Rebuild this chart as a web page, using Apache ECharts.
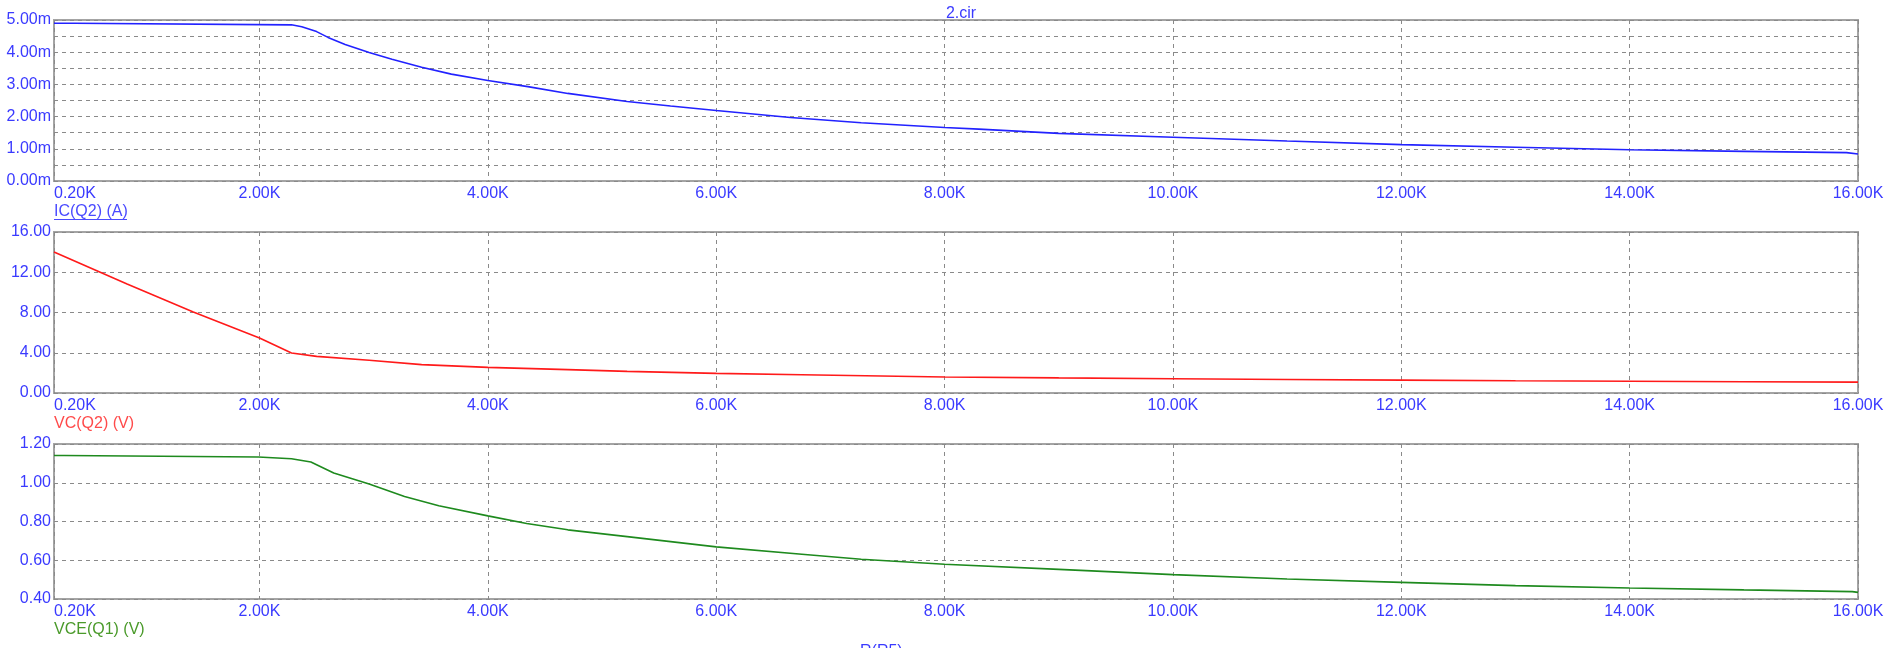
<!DOCTYPE html>
<html>
<head>
<meta charset="utf-8">
<script src="https://cdn.jsdelivr.net/npm/echarts@6/dist/echarts.min.js"></script>
<style>
html,body{margin:0;padding:0;background:#fff;}
#c{width:1896px;height:648px;}
</style>
</head>
<body>
<div id="c"></div>
<script>
// ---- data (R(R5) in ohms) ----
const xTickMin = 200;
const xTickMax = 16000;

const rIC = [200, 380, 390, 2280, 2370, 2500, 2600, 2750, 2960, 3160, 3420, 3680, 4000, 4350, 4700, 5220, 5600, 6000, 6650, 7270, 8000, 8300, 9000, 10000, 11000, 12000, 13000, 14000, 15000, 15900, 16000];
const icQ2 = [4.90e-3, 4.90e-3, 4.86e-3, 4.85e-3, 4.79e-3, 4.64e-3, 4.46e-3, 4.24e-3, 3.99e-3, 3.78e-3, 3.53e-3, 3.32e-3, 3.12e-3, 2.93e-3, 2.72e-3, 2.47e-3, 2.33e-3, 2.19e-3, 1.97e-3, 1.81e-3, 1.66e-3, 1.61e-3, 1.48e-3, 1.36e-3, 1.24e-3, 1.13e-3, 1.05e-3, 0.97e-3, 0.92e-3, 0.88e-3, 0.84e-3];

const rVC = [200, 585, 840, 1420, 2000, 2280, 2500, 2960, 3420, 4000, 4700, 5220, 6000, 6750, 8000, 9000, 10000, 11000, 12000, 13000, 14000, 15000, 16000];
const vcQ2 = [14.01, 12.09, 10.83, 8.05, 5.47, 3.97, 3.64, 3.25, 2.82, 2.55, 2.32, 2.15, 1.95, 1.82, 1.59, 1.50, 1.42, 1.34, 1.28, 1.22, 1.17, 1.12, 1.08];

const rVCE = [200, 290, 300, 1990, 2000, 2280, 2450, 2650, 2960, 3270, 3570, 4000, 4340, 4700, 5220, 6000, 6750, 7270, 8000, 9000, 10000, 11000, 12000, 13000, 14000, 15000, 15950, 16000];
const vceQ1 = [1.141, 1.141, 1.133, 1.133, 1.126, 1.124, 1.107, 1.050, 0.993, 0.929, 0.881, 0.829, 0.790, 0.757, 0.722, 0.669, 0.631, 0.605, 0.579, 0.553, 0.526, 0.503, 0.486, 0.469, 0.457, 0.447, 0.438, 0.434];

const yTicks1 = {min: 0, max: 5e-3, step: 0.5e-3};
const yTicks2 = {min: 0, max: 16, step: 4};
const yTicks3 = {min: 0.4, max: 1.2, step: 0.2};

const titleText = '2.cir';
const seriesNames = ['IC(Q2) (A)', 'VC(Q2) (V)', 'VCE(Q1) (V)'];
const xAxisName = 'R(R5)';

// ---- styles ----
const FONT = '"Liberation Sans", Arial, sans-serif';
const LBL = '#3a3aff';
const GRIDC = '#8a8a8a';
const lineColors = ['#2222ff', '#ff1a1a', '#1e8a1e'];
const nameColors = ['#4a4aff', '#ff4a4a', '#4a9a2a'];

const grids = [
  {left: 54, right: 38, top: 20, height: 161},
  {left: 54, right: 38, top: 232, height: 161},
  {left: 54, right: 38, top: 444, height: 155}
];

function xAxis(gi) {
  return {
    type: 'value', gridIndex: gi, min: xTickMin, max: xTickMax, splitNumber: 8,
    axisLine: {show: false}, axisTick: {show: false},
    axisLabel: {color: LBL, fontSize: 16, fontFamily: FONT, margin: 5, alignMinLabel: 'left',
      formatter: v => (v / 1000).toFixed(2) + 'K'},
    splitLine: {show: true, lineStyle: {color: GRIDC, type: [4, 4], width: 1}}
  };
}
function yAxis(gi, t, fmt) {
  return {
    type: 'value', gridIndex: gi, min: t.min, max: t.max, interval: t.step,
    axisLine: {show: false}, axisTick: {show: false},
    axisLabel: {color: LBL, fontSize: 16, fontFamily: FONT, margin: 3, formatter: fmt,
      showMinLabel: true, showMaxLabel: true},
    splitLine: {show: true, lineStyle: {color: GRIDC, type: [4, 4], width: 1}}
  };
}
const fmt1 = v => { const m = Math.round(v * 2000); return m % 2 ? '' : (m / 2).toFixed(2) + 'm'; };
const fmt2 = v => v.toFixed(2);

const pairs = (xs, ys) => xs.map((x, i) => [x, ys[i]]);

const chart = echarts.init(document.getElementById('c'), null, {renderer: 'canvas'});
chart.setOption({
  animation: false,
  backgroundColor: '#ffffff',
  textStyle: {fontFamily: FONT},
  title: {text: titleText, left: 956, top: 1, textAlign: 'center',
    textStyle: {color: LBL, fontSize: 16, fontWeight: 'normal', fontFamily: FONT}},
  grid: grids.map(g => Object.assign({show: true, borderColor: '#a4a4a4', borderWidth: 2, backgroundColor: '#fff'}, g)),
  xAxis: [xAxis(0), xAxis(1), xAxis(2)],
  yAxis: [yAxis(0, yTicks1, fmt1), yAxis(1, yTicks2, fmt2), yAxis(2, yTicks3, fmt2)],
  series: [
    {type: 'line', name: seriesNames[0], xAxisIndex: 0, yAxisIndex: 0, showSymbol: false,
      lineStyle: {color: lineColors[0], width: 1.6}, data: pairs(rIC, icQ2)},
    {type: 'line', name: seriesNames[1], xAxisIndex: 1, yAxisIndex: 1, showSymbol: false,
      lineStyle: {color: lineColors[1], width: 1.6}, data: pairs(rVC, vcQ2)},
    {type: 'line', name: seriesNames[2], xAxisIndex: 2, yAxisIndex: 2, showSymbol: false,
      lineStyle: {color: lineColors[2], width: 1.6}, data: pairs(rVCE, vceQ1)}
  ],
  graphic: [
    {type: 'text', left: 54, top: 204, style: {text: seriesNames[0], fill: nameColors[0], font: '16px ' + FONT}},
    {type: 'line', shape: {x1: 54, y1: 219.5, x2: 127, y2: 219.5}, style: {stroke: nameColors[0], lineWidth: 1}},
    {type: 'text', left: 54, top: 416, style: {text: seriesNames[1], fill: nameColors[1], font: '16px ' + FONT}},
    {type: 'text', left: 54, top: 622, style: {text: seriesNames[2], fill: nameColors[2], font: '16px ' + FONT}},
    {type: 'text', left: 860, top: 644, style: {text: xAxisName, fill: LBL, font: '16px ' + FONT}}
  ]
});
</script>
</body>
</html>
